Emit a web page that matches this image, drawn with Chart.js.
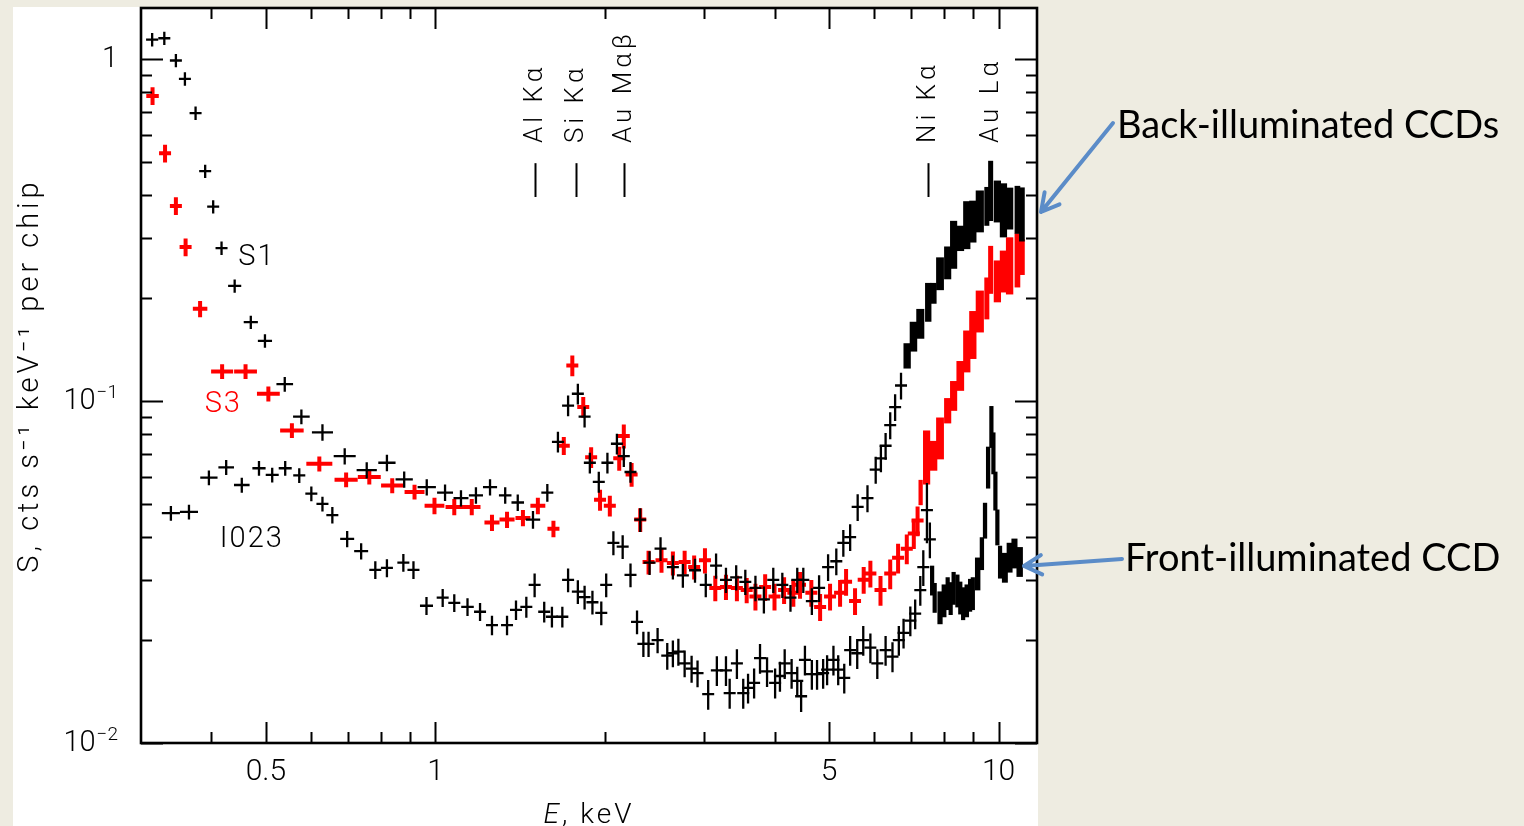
<!DOCTYPE html>
<html>
<head>
<meta charset="utf-8">
<script src="https://cdn.jsdelivr.net/npm/chart.js@4.4.0/dist/chart.umd.min.js"></script>
<style>
  html, body { margin: 0; padding: 0; background: #eeece1; }
</style>
</head>
<body>
<canvas id="spec" width="1524" height="826"></canvas>
<script>
// S1 chip (back-illuminated), energy in keV, rate in cts/s/keV, fractional error
const s1Energy = [0.314, 0.330, 0.346, 0.359, 0.375, 0.390, 0.403, 0.417, 0.440, 0.470,
  0.498, 0.540, 0.578, 0.630, 0.690, 0.755, 0.820, 0.880, 0.965, 1.04,
  1.11, 1.18, 1.25, 1.33, 1.40, 1.49, 1.58, 1.65, 1.72, 1.79,
  1.84, 1.88, 1.95, 2.02, 2.10, 2.16, 2.22, 2.31, 2.40, 2.51,
  2.64, 2.75, 2.89, 3.02, 3.15, 3.28, 3.42, 3.55, 3.70, 3.83,
  3.98, 4.13, 4.27, 4.39, 4.50, 4.66, 4.80, 4.98, 5.15, 5.30,
  5.45, 5.62, 5.85, 6.05, 6.18, 6.30, 6.42, 6.55, 6.71, 6.88,
  7.06, 7.26, 7.50, 7.66, 7.87, 8.12, 8.32, 8.55, 8.78, 9.00,
  9.26, 9.53, 9.68, 9.95, 10.2, 10.46, 10.8, 11.0];
const s1Rate = [1.14, 1.15, 0.99, 0.875, 0.695, 0.47, 0.37, 0.28, 0.217, 0.17,
  0.15, 0.112, 0.090, 0.081, 0.069, 0.0628, 0.066, 0.059, 0.056, 0.054,
  0.052, 0.053, 0.056, 0.053, 0.0505, 0.045, 0.054, 0.076, 0.097, 0.105,
  0.090, 0.066, 0.058, 0.066, 0.075, 0.069, 0.062, 0.045, 0.0337, 0.037,
  0.0327, 0.0309, 0.032, 0.029, 0.033, 0.030, 0.0305, 0.0296, 0.0284, 0.0263,
  0.030, 0.029, 0.0266, 0.030, 0.030, 0.026, 0.0284, 0.0327, 0.034, 0.0385,
  0.040, 0.049, 0.052, 0.063, 0.068, 0.074, 0.085, 0.096, 0.111, 0.136,
  0.155, 0.169, 0.196, 0.207, 0.237, 0.255, 0.29, 0.30, 0.331, 0.338,
  0.362, 0.374, 0.42, 0.387, 0.367, 0.369, 0.367, 0.357];
const s1Err = [0.045, 0.045, 0.045, 0.045, 0.045, 0.045, 0.045, 0.045, 0.045, 0.045,
  0.045, 0.05, 0.05, 0.055, 0.055, 0.055, 0.055, 0.055, 0.055, 0.055,
  0.055, 0.055, 0.055, 0.055, 0.055, 0.06, 0.06, 0.07, 0.07, 0.07,
  0.07, 0.07, 0.07, 0.07, 0.07, 0.07, 0.07, 0.08, 0.08, 0.08,
  0.08, 0.08, 0.08, 0.08, 0.085, 0.085, 0.085, 0.085, 0.085, 0.09,
  0.085, 0.085, 0.09, 0.085, 0.085, 0.09, 0.09, 0.09, 0.09, 0.09,
  0.09, 0.09, 0.09, 0.09, 0.09, 0.09, 0.09, 0.09, 0.09, 0.085,
  0.1, 0.1, 0.13, 0.07, 0.11, 0.11, 0.16, 0.085, 0.16, 0.14,
  0.14, 0.13, 0.2, 0.14, 0.18, 0.14, 0.16, 0.18];

// S3 chip (back-illuminated)
const s3Energy = [0.3145, 0.331, 0.346, 0.360, 0.382, 0.418, 0.460, 0.505, 0.556, 0.622,
  0.694, 0.763, 0.838, 0.918, 0.996, 1.08, 1.16, 1.26, 1.34, 1.43,
  1.52, 1.62, 1.69, 1.75, 1.83, 1.89, 1.96, 2.04, 2.12, 2.16,
  2.23, 2.31, 2.39, 2.52, 2.64, 2.77, 2.88, 3.01, 3.14, 3.28,
  3.43, 3.57, 3.70, 3.85, 4.00, 4.16, 4.32, 4.44, 4.65, 4.82,
  5.02, 5.23, 5.36, 5.56, 5.76, 5.92, 6.17, 6.42, 6.63, 6.87,
  7.07, 7.18, 7.27, 7.45, 7.66, 7.87, 8.12, 8.32, 8.55, 8.78,
  9.00, 9.26, 9.53, 9.68, 9.95, 10.2, 10.46, 10.8, 11.0];
const s3Rate = [0.78, 0.53, 0.372, 0.282, 0.186, 0.122, 0.122, 0.105, 0.082, 0.0655,
  0.0589, 0.060, 0.0566, 0.0542, 0.0494, 0.049, 0.049, 0.0441, 0.045, 0.0455,
  0.0494, 0.0423, 0.074, 0.127, 0.096, 0.0685, 0.0514, 0.0494, 0.068, 0.079,
  0.061, 0.045, 0.0338, 0.0342, 0.0336, 0.0338, 0.0327, 0.0342, 0.0284, 0.0286,
  0.0284, 0.028, 0.0268, 0.0286, 0.0268, 0.028, 0.0275, 0.029, 0.0275, 0.025,
  0.0268, 0.0275, 0.0296, 0.026, 0.030, 0.0313, 0.028, 0.0313, 0.0348, 0.037,
  0.041, 0.0447, 0.0542, 0.0695, 0.0695, 0.0785, 0.094, 0.104, 0.119, 0.141,
  0.158, 0.1845, 0.2015, 0.245, 0.226, 0.2415, 0.253, 0.262, 0.2655];
const s3Err = [0.06, 0.06, 0.06, 0.06, 0.055, 0.05, 0.05, 0.05, 0.05, 0.05,
  0.05, 0.05, 0.05, 0.05, 0.055, 0.055, 0.055, 0.055, 0.055, 0.055,
  0.055, 0.055, 0.06, 0.07, 0.07, 0.07, 0.07, 0.07, 0.08, 0.08,
  0.08, 0.08, 0.08, 0.08, 0.08, 0.08, 0.08, 0.085, 0.085, 0.085,
  0.085, 0.085, 0.09, 0.09, 0.09, 0.09, 0.09, 0.09, 0.09, 0.09,
  0.09, 0.09, 0.09, 0.09, 0.09, 0.09, 0.1, 0.1, 0.1, 0.1,
  0.1, 0.1, 0.085, 0.18, 0.1, 0.14, 0.085, 0.1, 0.1, 0.14,
  0.16, 0.14, 0.14, 0.16, 0.14, 0.14, 0.19, 0.18, 0.12];

// I023 chip (front-illuminated)
const i3Energy = [0.339, 0.365, 0.396, 0.425, 0.453, 0.486, 0.513, 0.541, 0.573, 0.602,
  0.630, 0.656, 0.697, 0.738, 0.782, 0.820, 0.877, 0.914, 0.964, 1.03,
  1.08, 1.14, 1.20, 1.26, 1.34, 1.39, 1.45, 1.50, 1.56, 1.61,
  1.68, 1.72, 1.79, 1.84, 1.90, 1.97, 2.01, 2.07, 2.15, 2.22,
  2.28, 2.34, 2.39, 2.48, 2.58, 2.64, 2.70, 2.77, 2.85, 2.92,
  3.05, 3.16, 3.28, 3.33, 3.43, 3.52, 3.59, 3.68, 3.77, 3.88,
  4.01, 4.09, 4.17, 4.29, 4.39, 4.46, 4.53, 4.66, 4.76, 4.88,
  4.96, 5.09, 5.19, 5.32, 5.45, 5.61, 5.75, 5.92, 6.09, 6.30,
  6.48, 6.65, 6.78, 6.97, 7.11, 7.26, 7.35, 7.46, 7.55,
  7.62, 7.70, 7.87, 8.00, 8.12, 8.22, 8.32, 8.45, 8.55, 8.65,
  8.78, 8.90, 9.00, 9.18, 9.34, 9.46, 9.58, 9.71, 9.79, 9.87,
  9.95, 10.06, 10.26, 10.46, 10.67, 10.9];
const i3Rate = [0.047, 0.0474, 0.0597, 0.064, 0.0568, 0.0636, 0.0608, 0.0636, 0.0606, 0.0536,
  0.050, 0.0464, 0.0395, 0.0364, 0.0321, 0.0325, 0.0337, 0.0321, 0.0252, 0.0266,
  0.0257, 0.025, 0.0242, 0.0221, 0.0221, 0.0245, 0.025, 0.029, 0.0242, 0.0234,
  0.0234, 0.030, 0.0277, 0.0267, 0.0258, 0.024, 0.029, 0.0385, 0.0375, 0.031,
  0.0226, 0.0195, 0.0195, 0.020, 0.018, 0.0183, 0.0185, 0.0171, 0.0165, 0.016,
  0.0139, 0.0163, 0.0163, 0.014, 0.0171, 0.014, 0.0145, 0.015, 0.0177, 0.0162,
  0.015, 0.0157, 0.0171, 0.016, 0.0152, 0.0137, 0.0175, 0.0159, 0.0159, 0.016,
  0.0164, 0.0175, 0.0164, 0.0155, 0.0187, 0.0183, 0.020, 0.019, 0.0171, 0.0187,
  0.0179, 0.020, 0.021, 0.0228, 0.0239, 0.028, 0.0327, 0.048, 0.0394,
  0.030, 0.0267, 0.025, 0.0262, 0.0275, 0.0266, 0.0285, 0.028, 0.0267, 0.0257,
  0.0262, 0.0272, 0.0275, 0.0314, 0.036, 0.045, 0.0645, 0.0848, 0.071, 0.055,
  0.043, 0.034, 0.0327, 0.035, 0.036, 0.034];
const i3Err = [0.05, 0.05, 0.05, 0.05, 0.05, 0.05, 0.05, 0.05, 0.05, 0.05,
  0.05, 0.055, 0.055, 0.055, 0.06, 0.06, 0.06, 0.06, 0.06, 0.06,
  0.06, 0.06, 0.06, 0.065, 0.065, 0.065, 0.07, 0.08, 0.07, 0.07,
  0.07, 0.08, 0.08, 0.08, 0.08, 0.08, 0.08, 0.08, 0.08, 0.08,
  0.08, 0.085, 0.085, 0.085, 0.09, 0.09, 0.09, 0.09, 0.09, 0.09,
  0.1, 0.1, 0.1, 0.1, 0.1, 0.1, 0.1, 0.1, 0.1, 0.1,
  0.1, 0.1, 0.1, 0.1, 0.1, 0.1, 0.1, 0.1, 0.1, 0.1,
  0.1, 0.1, 0.1, 0.1, 0.1, 0.1, 0.1, 0.1, 0.1, 0.1,
  0.1, 0.1, 0.1, 0.1, 0.1, 0.1, 0.12, 0.2, 0.12,
  0.1, 0.1, 0.11, 0.11, 0.11, 0.11, 0.11, 0.11, 0.11, 0.11,
  0.11, 0.11, 0.11, 0.11, 0.11, 0.12, 0.14, 0.14, 0.14, 0.13,
  0.12, 0.11, 0.1, 0.1, 0.1, 0.1];

// axes
const xTicks = [0.5, 1, 5, 10];
const xMinor = [0.4, 0.6, 0.7, 0.8, 0.9, 2, 3, 4, 6, 7, 8, 9];
const yTicks = [0.01, 0.1, 1];
const yTickBase = ['10', '10', '1'];
const yTickExp = ['−2', '−1', ''];
const yMinor = [0.02, 0.03, 0.04, 0.05, 0.06, 0.07, 0.08, 0.09, 0.2, 0.3, 0.4, 0.5, 0.6, 0.7, 0.8, 0.9];

// emission lines marked on top
const lineNames = ['Al Kα', 'Si Kα', 'Au Mαβ', 'Ni Kα', 'Au Lα'];
const lineEnergies = [1.50, 1.78, 2.16, 7.5, 9.68];

const plotFont = 'Roboto, "DejaVu Sans", sans-serif';

function points(es, rs, errs) {
  return es.map((e, i) => ({ x: e, y: rs[i], err: errs[i] }));
}

// beige slide + white picture behind the plot
const panel = {
  id: 'panel',
  beforeDraw(chart) {
    const { ctx, chartArea: a } = chart;
    ctx.save();
    ctx.fillStyle = '#eeece1';
    ctx.fillRect(0, 0, chart.width, chart.height);
    ctx.fillStyle = '#ffffff';
    ctx.fillRect(a.left - 128, a.top - 1, a.right - a.left + 129, chart.height);
    ctx.restore();
  }
};

// data crosses: x bar = bin, y bar = error; narrow bins above bandFrom merge into a band
const crosses = {
  id: 'crosses',
  afterDatasetsDraw(chart) {
    const { ctx, chartArea: a, scales: { x, y } } = chart;
    ctx.save();
    ctx.beginPath();
    ctx.rect(a.left, a.top, a.right - a.left, a.bottom - a.top);
    ctx.clip();
    chart.data.datasets.forEach(ds => {
      const pts = ds.data;
      const px = pts.map(p => x.getPixelForValue(p.x));
      ctx.strokeStyle = ds.borderColor;
      ctx.fillStyle = ds.borderColor;
      ctx.lineWidth = ds.barWidth;
      pts.forEach((p, i) => {
        const dl = i > 0 ? px[i] - px[i - 1] : px[i + 1] - px[i];
        const dr = i < pts.length - 1 ? px[i + 1] - px[i] : dl;
        const half = Math.min(dl, dr) / 2;
        const cy = y.getPixelForValue(p.y);
        const top = y.getPixelForValue(p.y * (1 + p.err));
        const bot = y.getPixelForValue(p.y * (1 - p.err));
        if (p.x >= ds.bandFrom) {
          const hw = Math.max(1.5, half);
          ctx.fillRect(px[i] - hw - 0.6, top, 2 * hw + 1.2, bot - top);
        } else {
          const hw = Math.min(13, Math.max(6, half));
          ctx.beginPath();
          ctx.moveTo(px[i] - hw, cy);
          ctx.lineTo(px[i] + hw, cy);
          ctx.moveTo(px[i], top);
          ctx.lineTo(px[i], bot);
          ctx.stroke();
        }
      });
    });
    ctx.restore();
  }
};

// frame, inward ticks, labels and notes
const frame = {
  id: 'frame',
  afterDraw(chart) {
    const { ctx, chartArea: a, scales: { x, y } } = chart;
    ctx.save();
    ctx.strokeStyle = '#000';
    ctx.lineWidth = 2;
    ctx.beginPath();
    xTicks.concat(xMinor).forEach(v => {
      const len = xTicks.includes(v) ? 21 : 11;
      const p = Math.round(x.getPixelForValue(v)) + 0.5;
      ctx.moveTo(p, a.bottom); ctx.lineTo(p, a.bottom - len);
      ctx.moveTo(p, a.top); ctx.lineTo(p, a.top + len);
    });
    yTicks.concat(yMinor).forEach(v => {
      const len = yTicks.includes(v) ? 22 : 11;
      const p = Math.round(y.getPixelForValue(v)) + 0.5;
      ctx.moveTo(a.left, p); ctx.lineTo(a.left + len, p);
      ctx.moveTo(a.right, p); ctx.lineTo(a.right - len, p);
    });
    ctx.stroke();
    ctx.lineWidth = 2.6;
    ctx.strokeRect(a.left, a.top, a.right - a.left, a.bottom - a.top);

    // y tick labels with raised exponents
    ctx.fillStyle = '#000';
    ctx.textBaseline = 'middle';
    ctx.textAlign = 'right';
    yTicks.forEach((v, i) => {
      const py = y.getPixelForValue(v) + 1;
      let right = a.left - 23;
      if (yTickExp[i]) {
        ctx.font = '300 19px ' + plotFont;
        ctx.fillText(yTickExp[i], right, py - 9);
        right -= ctx.measureText(yTickExp[i]).width + 1;
      }
      ctx.font = '300 29px ' + plotFont;
      ctx.fillText(yTickBase[i], right, py);
    });

    // axis titles
    ctx.letterSpacing = '4px';
    ctx.font = '300 29px ' + plotFont;
    ctx.save();
    ctx.translate(31, (a.top + a.bottom) / 2);
    ctx.rotate(-Math.PI / 2);
    ctx.textAlign = 'center';
    ctx.textBaseline = 'middle';
    ctx.fillText('S, cts s⁻¹ keV⁻¹ per chip', 0, 0);
    ctx.restore();

    const cx = (a.left + a.right) / 2;
    ctx.letterSpacing = '3px';
    ctx.textBaseline = 'alphabetic';
    ctx.textAlign = 'left';
    ctx.font = 'italic 300 28px ' + plotFont;
    const wE = ctx.measureText('E').width;
    ctx.font = '300 28px ' + plotFont;
    const wRest = ctx.measureText(', keV').width;
    const x0 = cx - (wE + wRest) / 2;
    ctx.font = 'italic 300 28px ' + plotFont;
    ctx.fillText('E', x0, 823);
    ctx.font = '300 28px ' + plotFont;
    ctx.fillText(', keV', x0 + wE, 823);

    // chip names
    ctx.textAlign = 'center';
    ctx.textBaseline = 'middle';
    ctx.letterSpacing = '2px';
    ctx.font = '300 29px ' + plotFont;
    ctx.fillText('S1', x.getPixelForValue(0.482), y.getPixelForValue(0.262));
    ctx.fillText('I023', x.getPixelForValue(0.472), y.getPixelForValue(0.0392));
    ctx.fillStyle = '#ff0000';
    ctx.fillText('S3', x.getPixelForValue(0.42), y.getPixelForValue(0.0973));

    // emission line markers
    ctx.fillStyle = '#000';
    ctx.lineWidth = 2;
    ctx.letterSpacing = '4px';
    ctx.font = '300 26px ' + plotFont;
    lineEnergies.forEach((e, i) => {
      const p = Math.round(x.getPixelForValue(e)) + 0.5;
      ctx.beginPath();
      ctx.moveTo(p, y.getPixelForValue(0.496));
      ctx.lineTo(p, y.getPixelForValue(0.395));
      ctx.stroke();
      ctx.save();
      ctx.translate(p, y.getPixelForValue(0.568));
      ctx.rotate(-Math.PI / 2);
      ctx.textAlign = 'left';
      ctx.textBaseline = 'middle';
      ctx.fillText(lineNames[i], 0, 0);
      ctx.restore();
    });
    ctx.letterSpacing = '0px';

    // slide notes with arrows
    ctx.font = '38px Lato, "Open Sans", sans-serif';
    ctx.textAlign = 'left';
    ctx.textBaseline = 'alphabetic';
    ctx.fillText('Back-illuminated CCDs', 1117, 138);
    ctx.fillText('Front-illuminated CCD', 1125, 571);
    drawArrow(ctx, 1113, 123, 1041, 212);
    drawArrow(ctx, 1122, 559, 1024, 566);
    ctx.restore();
  }
};

function drawArrow(ctx, x1, y1, x2, y2) {
  const ang = Math.atan2(y2 - y1, x2 - x1);
  ctx.save();
  ctx.strokeStyle = '#5b8cc8';
  ctx.lineWidth = 4;
  ctx.lineCap = 'round';
  ctx.lineJoin = 'round';
  ctx.beginPath();
  ctx.moveTo(x1, y1);
  ctx.lineTo(x2, y2);
  ctx.moveTo(x2 - 20 * Math.cos(ang - 0.5), y2 - 20 * Math.sin(ang - 0.5));
  ctx.lineTo(x2, y2);
  ctx.lineTo(x2 - 20 * Math.cos(ang + 0.5), y2 - 20 * Math.sin(ang + 0.5));
  ctx.stroke();
  ctx.restore();
}

new Chart(document.getElementById('spec'), {
  type: 'scatter',
  data: {
    datasets: [
      { label: 'S3', data: points(s3Energy, s3Rate, s3Err), borderColor: '#ff0000', barWidth: 4, bandFrom: 7.2 },
      { label: 'S1', data: points(s1Energy, s1Rate, s1Err), borderColor: '#000000', barWidth: 2.3, bandFrom: 6.8 },
      { label: 'I023', data: points(i3Energy, i3Rate, i3Err), borderColor: '#000000', barWidth: 2.3, bandFrom: 7.6 }
    ]
  },
  options: {
    responsive: false,
    animation: false,
    layout: { padding: { left: 0, top: 8, right: 487, bottom: 0 } },
    elements: { point: { radius: 0, hoverRadius: 0 } },
    plugins: { legend: { display: false }, tooltip: { enabled: false } },
    scales: {
      x: {
        type: 'logarithmic',
        min: 0.3,
        max: 11.7,
        grid: { display: false, drawTicks: false },
        border: { display: false },
        afterFit: s => { s.height = 83; s.paddingLeft = 0; s.paddingRight = 0; },
        afterBuildTicks: s => { s.ticks = xTicks.map(v => ({ value: v })); },
        ticks: {
          autoSkip: false,
          maxRotation: 0,
          padding: 11,
          color: '#000',
          font: { family: plotFont, size: 30, weight: '300' },
          callback: v => String(v)
        }
      },
      y: {
        type: 'logarithmic',
        min: 0.01,
        max: 1.41,
        grid: { display: false, drawTicks: false },
        border: { display: false },
        afterFit: s => { s.width = 141; s.paddingTop = 0; s.paddingBottom = 0; },
        afterBuildTicks: s => { s.ticks = yTicks.map(v => ({ value: v })); },
        ticks: { display: false }
      }
    }
  },
  plugins: [panel, crosses, frame]
});
</script>
</body>
</html>
